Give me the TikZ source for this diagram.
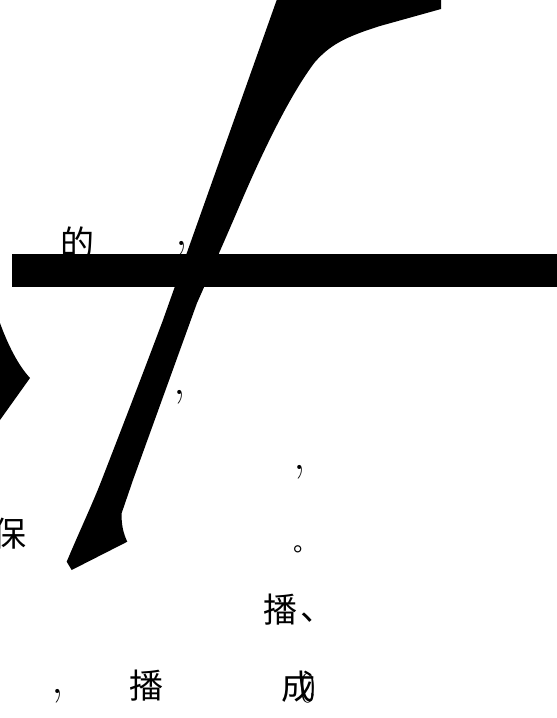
\documentclass[tikz,border=0pt]{standalone}
\usepackage{fontspec}
\newfontfamily\cjk{Noto Sans CJK SC}
\tikzset{
  glyph/.style={inner sep=0pt, outer sep=0pt, font=\cjk\fontsize{34}{34}\selectfont},
  latin/.style={inner sep=0pt, outer sep=0pt, font=\fontsize{50}{50}\selectfont},
  ink/.style={fill=black, draw=none}
}
\begin{document}
\begin{tikzpicture}[x=1pt, y=-1pt]
\useasboundingbox (0,0) rectangle (557,718);
% text that sits under the bar
\node[glyph] (de) at (77,242) {的};
% big f glyph
\fill[ink] (276.7,0) -- (441,0) -- (441,9) -- (380,26)
  .. controls (345,37) and (330,45) .. (315,62)
  .. controls (295,88) and (270,135) .. (242,200)
  .. controls (225,240) and (205,285) .. (197,303)
  -- (133,480) -- (121.7,513)
  .. controls (121,525) and (124,535) .. (127.3,541.7)
  -- (71.7,570) -- (66.7,561.7)
  .. controls (80,530) and (92,505) .. (101.7,480)
  .. controls (125,420) and (145,368) .. (163,320)
  -- cycle;
% bar
\fill[ink] (12,254) rectangle (557,287);
% left fragment
\fill[ink] (0,323) .. controls (8,345) and (18,365) .. (30,378) -- (0,420) -- cycle;
% punctuation and characters
\node[latin] (c1) at (182,248) {,};
\node[latin] (c2) at (180,397) {,};
\node[latin] (c3) at (300,472) {,};
\node[glyph, anchor=west, font=\cjk\fontsize{24}{24}\selectfont] (p1) at (293,549) {。};
\node[glyph] (bao) at (9,534) {保};
\node[glyph] (bo1) at (280,610) {播};
\node[glyph, anchor=west] (dun) at (300,618) {、};
\node[latin] (c4) at (58,696) {,};
\node[glyph] (bo2) at (146.5,686) {播};
\node[glyph] (cheng) at (298,687) {成};
\node[inner sep=0pt, xscale=0.75, font=\fontsize{44}{44}\selectfont] (zero) at (308.5,688) {0};
\end{tikzpicture}
\end{document}
